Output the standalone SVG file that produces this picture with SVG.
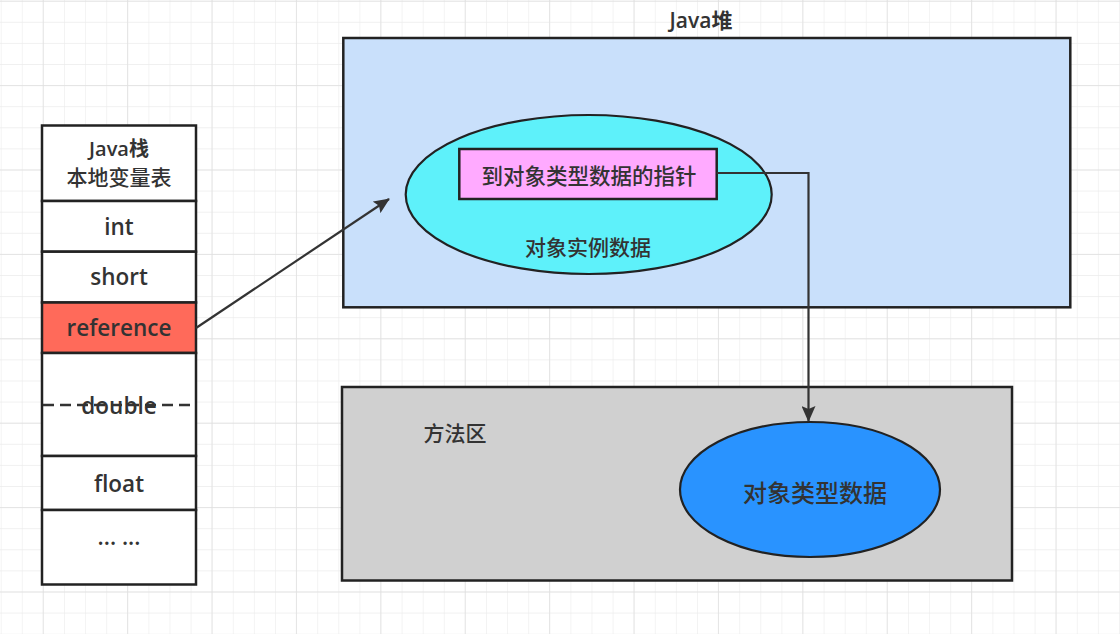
<svg xmlns="http://www.w3.org/2000/svg" width="1120" height="634" viewBox="0 0 1120 634">
  <defs>
    <pattern id="minor" x="0.7" y="0.7" width="21.1" height="21.1" patternUnits="userSpaceOnUse">
      <path d="M0 0H21.1M0 0V21.1" fill="none" stroke="#ececec" stroke-width="1.2"/>
    </pattern>
    <pattern id="major" x="42.7" y="0.7" width="84.4" height="84.4" patternUnits="userSpaceOnUse">
      <path d="M0 0H84.4M0 0V84.4" fill="none" stroke="#e0e0e0" stroke-width="1.5"/>
    </pattern>
    <marker id="arrow" viewBox="0 0 16 14" refX="15" refY="7" markerWidth="16" markerHeight="14" markerUnits="userSpaceOnUse" orient="auto">
      <path d="M0 0L16 7L0 14L3 7Z" fill="#333"/>
    </marker>
    <style>
      .lbl { font-family: "Open Sans", "Noto Sans", "Noto Sans CJK SC", sans-serif; font-weight: 600; font-size: 22.5px; fill: #333; text-anchor: middle; dominant-baseline: central; }
      .cjk { font-family: "Noto Sans CJK SC", "Noto Sans", sans-serif; font-weight: 500; font-size: 21px; fill: #333; text-anchor: middle; dominant-baseline: central; }
      .cell { stroke: #222; stroke-width: 2.5; }
      .conn { fill: none; stroke: #333; stroke-width: 2.2; }
    </style>
  </defs>
  <rect width="1120" height="634" fill="#ffffff"/>
  <rect width="1120" height="634" fill="url(#minor)"/>
  <rect width="1120" height="634" fill="url(#major)"/>

  <g id="stack">
    <rect class="cell" x="42" y="125.5" width="154" height="75.5" fill="#fff"/>
    <text class="lbl" x="119" y="148" style="font-size:20px">Java栈</text>
    <text class="cjk" x="119" y="176">本地变量表</text>
    <rect class="cell" x="42" y="201" width="154" height="50.7" fill="#fff"/>
    <text class="lbl" x="119" y="226">int</text>
    <rect class="cell" x="42" y="251.7" width="154" height="50.8" fill="#fff"/>
    <text class="lbl" x="119" y="276">short</text>
    <rect class="cell" x="42" y="302.5" width="154" height="50.5" fill="#ff6a5a"/>
    <text class="lbl" x="119" y="327">reference</text>
    <rect class="cell" x="42" y="353" width="154" height="103" fill="#fff"/>
    <line x1="43" y1="405" x2="196" y2="405" stroke="#333" stroke-width="2.5" stroke-dasharray="11 6"/>
    <text class="lbl" x="119" y="405">double</text>
    <rect class="cell" x="42" y="456" width="154" height="54" fill="#fff"/>
    <text class="lbl" x="119" y="483">float</text>
    <rect class="cell" x="42" y="510" width="154" height="74.5" fill="#fff"/>
    <text class="lbl" x="119" y="536">... ...</text>
  </g>

  <g id="heap">
    <text class="lbl" x="701" y="20" style="font-size:21px">Java堆</text>
    <rect x="343.3" y="38" width="727" height="269.3" fill="#c9e0fb" stroke="#222" stroke-width="2.5"/>
  </g>

  <g id="instance">
    <ellipse cx="588.7" cy="194.5" rx="183" ry="79.5" fill="#5ef1fa" stroke="#222" stroke-width="2.2"/>
    <text class="cjk" x="588" y="246">对象实例数据</text>
  </g>

  <g id="pointer">
    <rect x="459.3" y="149" width="257.4" height="50" fill="#ffaaff" stroke="#222" stroke-width="2.5"/>
    <text class="cjk" x="589" y="174" style="font-size:21.5px">到对象类型数据的指针</text>
  </g>

  <g id="method-area">
    <rect x="342" y="387" width="670" height="193.5" fill="#d0d0d0" stroke="#222" stroke-width="2.5"/>
    <text class="cjk" x="455" y="432">方法区</text>
  </g>

  <g id="type-data">
    <ellipse cx="810" cy="489.5" rx="130" ry="67.5" fill="#2993ff" stroke="#222" stroke-width="2.2"/>
    <text class="cjk" x="815" y="491" style="font-size:24px">对象类型数据</text>
  </g>

  <g id="connectors">
    <line class="conn" x1="196" y1="328" x2="389" y2="199" marker-end="url(#arrow)"/>
    <polyline class="conn" points="716.7,173 808.5,173 808.5,421" marker-end="url(#arrow)"/>
  </g>
</svg>
